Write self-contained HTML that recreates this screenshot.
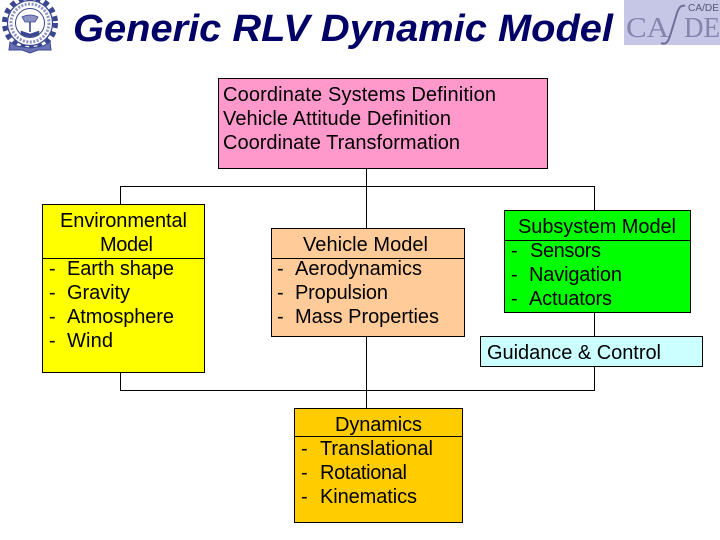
<!DOCTYPE html>
<html>
<head>
<meta charset="utf-8">
<style>
html,body{margin:0;padding:0;background:#fff;}
svg{display:block;}
text{font-family:"Liberation Sans",sans-serif;font-size:20px;fill:#000;}
</style>
</head>
<body>
<svg width="720" height="540" viewBox="0 0 720 540" xmlns="http://www.w3.org/2000/svg">
<rect width="720" height="540" fill="#fff"/>

<!-- IIT logo -->
<g fill="none" stroke="#3a478f">
  <circle cx="30" cy="23" r="25.5" stroke-width="5" stroke-dasharray="5 4"/>
  <circle cx="30" cy="23" r="22.5" stroke-width="1.2"/>
  <circle cx="30" cy="23" r="19" stroke="#8d94c4" stroke-width="3" stroke-dasharray="2 1.5"/>
  <circle cx="30" cy="23" r="14.5" stroke-width="1"/>
  <path d="M10 42 L17 46 L30 48 L43 46 L50 42 L51 50 L38 50 L30 53 L22 50 L9 50 Z" fill="#6871b4" stroke-width="1"/>
  <path d="M21 31 L30 34 L39 31 L39 35 L30 37 L21 35 Z" fill="#3a478f" stroke-width=".6"/>
  <path d="M22 17 Q30 13 38 17 L35 22 L25 22 Z" fill="#8d94c4" stroke-width=".8"/>
  <path d="M30 22 V32" stroke-width="1.6"/>
</g>

<!-- Title -->
<text x="73" y="41" textLength="540" lengthAdjust="spacingAndGlyphs" style="font-size:38px;font-weight:bold;font-style:italic;fill:#000066">Generic RLV Dynamic Model</text>

<!-- CADE logo -->
<rect x="624" y="0" width="96" height="45" fill="#c6c6e6"/>
<text x="626" y="37" textLength="43" lengthAdjust="spacingAndGlyphs" style="font-family:'Liberation Serif',serif;font-size:29px;fill:#8585ad">CA</text>
<text x="684" y="37" textLength="36" lengthAdjust="spacingAndGlyphs" style="font-family:'Liberation Serif',serif;font-size:29px;fill:#8585ad">DE</text>
<path d="M661 43 Q667 46 670 36 L677 13 Q680 4 685 6" fill="none" stroke="#6f6f9a" stroke-width="2"/>
<text x="688" y="11" textLength="31" lengthAdjust="spacingAndGlyphs" style="font-size:10px;fill:#55557a">CA/DE</text>

<!-- Connectors -->
<g fill="none" stroke="#000" stroke-width="1">
  <rect x="120.5" y="186.5" width="474" height="204"/>
  <line x1="366.5" y1="168" x2="366.5" y2="408"/>
</g>

<!-- Pink -->
<rect x="218.5" y="78.5" width="329" height="90" fill="#ff99cc" stroke="#000"/>
<text x="223" y="101" textLength="273">Coordinate Systems  Definition</text>
<text x="223" y="125" textLength="228">Vehicle Attitude Definition</text>
<text x="223" y="149" textLength="237">Coordinate Transformation</text>

<!-- Yellow -->
<rect x="42.5" y="204.5" width="162" height="168" fill="#ffff00" stroke="#000"/>
<line x1="42" y1="258.5" x2="204" y2="258.5" stroke="#000"/>
<text x="60" y="227" textLength="127">Environmental</text>
<text x="100" y="251" textLength="53">Model</text>
<text x="49" y="275">-</text><text x="67" y="275" textLength="107">Earth shape</text>
<text x="49" y="299">-</text><text x="67" y="299" textLength="63">Gravity</text>
<text x="49" y="323">-</text><text x="67" y="323" textLength="107">Atmosphere</text>
<text x="49" y="347">-</text><text x="67" y="347" textLength="46">Wind</text>

<!-- Orange -->
<rect x="271.5" y="228.5" width="193" height="108" fill="#ffcc99" stroke="#000"/>
<line x1="271" y1="258.5" x2="464" y2="258.5" stroke="#000"/>
<text x="303" y="251" textLength="125">Vehicle Model</text>
<text x="277" y="275">-</text><text x="295" y="275" textLength="127">Aerodynamics</text>
<text x="277" y="299">-</text><text x="295" y="299" textLength="93">Propulsion</text>
<text x="277" y="323">-</text><text x="295" y="323" textLength="144">Mass Properties</text>

<!-- Green -->
<rect x="504.5" y="210.5" width="186" height="102" fill="#00ff00" stroke="#000"/>
<line x1="504" y1="240.5" x2="690" y2="240.5" stroke="#000"/>
<text x="518" y="233" textLength="158">Subsystem Model</text>
<text x="511" y="257">-</text><text x="530" y="257" textLength="71">Sensors</text>
<text x="511" y="281">-</text><text x="529" y="281" textLength="93">Navigation</text>
<text x="511" y="305">-</text><text x="529" y="305" textLength="83">Actuators</text>

<!-- Cyan -->
<rect x="480.5" y="336.5" width="222" height="30" fill="#ccffff" stroke="#000"/>
<text x="487" y="359" textLength="174">Guidance &amp; Control</text>

<!-- Dynamics -->
<rect x="294.5" y="408.5" width="168" height="114" fill="#ffcc00" stroke="#000"/>
<line x1="294" y1="436.5" x2="462" y2="436.5" stroke="#000"/>
<text x="335" y="431" textLength="87">Dynamics</text>
<text x="301" y="455">-</text><text x="320" y="455" textLength="113">Translational</text>
<text x="301" y="479">-</text><text x="320" y="479" textLength="87">Rotational</text>
<text x="301" y="503">-</text><text x="320" y="503" textLength="97">Kinematics</text>
</svg>
</body>
</html>
